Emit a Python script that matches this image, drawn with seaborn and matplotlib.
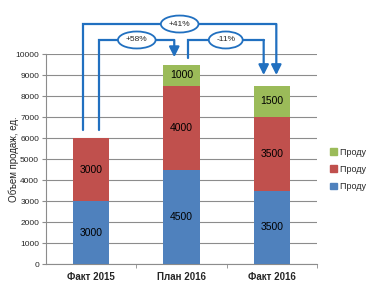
import seaborn as sns
import matplotlib.pyplot as plt
import pandas as pd
import numpy as np

categories = ["Факт 2015", "План 2016", "Факт 2016"]
product1 = [3000, 4500, 3500]
product2 = [3000, 4000, 3500]
product3 = [0, 1000, 1500]
series_names = ["Продукт 1", "Продукт 2", "Продукт 3"]
changes = ["+58%", "-11%", "+41%"]

colors = ["#4F81BD", "#C0504D", "#9BBB59"]
arrow_c = "#2170C0"

sns.set_style("white")
plt.rcParams["font.family"] = ["Liberation Sans", "DejaVu Sans"]

fig = plt.figure(figsize=(3.66, 2.97), dpi=100)
ax = fig.add_axes([0.1257, 0.111, 0.7403, 0.707])

df = pd.DataFrame({"cat": categories, "p1": product1, "p2": product2, "p3": product3})
df["c2"] = df["p1"] + df["p2"]
df["c3"] = df["c2"] + df["p3"]

# stacked bars via cumulative overlap
for col, c in zip(["c3", "c2", "p1"], colors[::-1]):
    sns.barplot(data=df, x="cat", y=col, color=c, width=0.4, ax=ax,
                saturation=1, edgecolor="none", zorder=3)

# segment labels
for i in range(len(categories)):
    bottom = 0
    for vals in [product1, product2, product3]:
        v = vals[i]
        if v > 0:
            ax.text(i, bottom + v / 2, str(v), ha="center", va="center",
                    fontsize=7.5, color="black", zorder=4)
        bottom += v

ax.set_xlim(-0.5, 2.5)
ax.set_ylim(0, 10000)
ax.set_yticks(np.arange(0, 10001, 1000))
ax.yaxis.grid(True, color="#8C8C8C", lw=0.8)
ax.set_axisbelow(True)
ax.set_xlabel("")
ax.set_ylabel("Объем продаж, ед.", fontsize=7)
ax.yaxis.set_label_coords(-0.1, 0.5)
ax.tick_params(axis="y", labelsize=6, length=3, color="#8C8C8C", pad=2, left=True)
ax.tick_params(axis="x", labelsize=7, length=0, pad=6)
for lab in ax.get_xticklabels():
    lab.set_fontweight("bold")
ax.set_xticks([0.5, 1.5, 2.5], minor=True)
ax.tick_params(axis="x", which="minor", length=3, color="#8C8C8C", bottom=True)
for s in ["top", "right"]:
    ax.spines[s].set_visible(False)
for s in ["left", "bottom"]:
    ax.spines[s].set_color("#8C8C8C")
    ax.spines[s].set_linewidth(0.8)

# legend
handles = [plt.Rectangle((0, 0), 1, 1, color=c) for c in colors]
leg = fig.legend(handles[::-1], series_names[::-1], loc="center left",
                 bbox_to_anchor=(0.88, 0.43), frameon=False, fontsize=6.5,
                 handlelength=0.7, handleheight=0.7, handletextpad=0.4,
                 labelspacing=0.9)

# change arrows
totals = df["c3"].tolist()
lw = 1.6
akw = dict(arrowstyle="-|>,head_length=0.6,head_width=0.3", color=arrow_c, lw=lw,
           shrinkA=0, shrinkB=0)

def bracket(x0, y0, x1, y1, ytop, label):
    ax.plot([x0, x0, x1], [y0, ytop, ytop], color=arrow_c, lw=lw, clip_on=False,
            solid_joinstyle="miter", zorder=5)
    ax.annotate("", xy=(x1, y1), xytext=(x1, ytop), arrowprops=akw,
                annotation_clip=False, zorder=5)
    ax.text((x0 + x1) / 2, ytop, label, ha="center", va="center", fontsize=6,
            zorder=6, bbox=dict(boxstyle="ellipse,pad=0.3", fc="white",
                                ec=arrow_c, lw=1.3), clip_on=False)

bracket(0.09, totals[0] + 400, 0.92, totals[1] + 350, 10670, changes[0])
bracket(1.07, totals[1] + 300, 1.91, totals[2] + 500, 10670, changes[1])
bracket(-0.09, totals[0] + 400, 2.05, totals[2] + 500, 11430, changes[2])

fig.savefig("out.png", dpi=100)
